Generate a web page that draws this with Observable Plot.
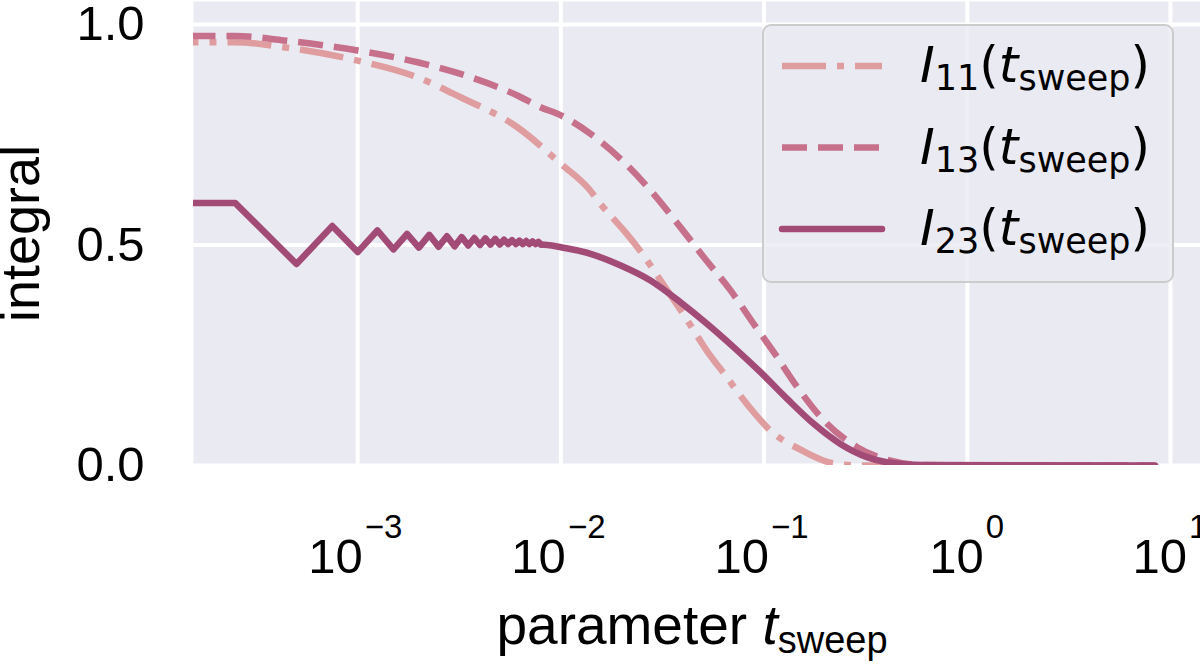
<!DOCTYPE html>
<html><head><meta charset="utf-8">
<script src="https://cdn.jsdelivr.net/npm/d3@7"></script>
<script src="https://cdn.jsdelivr.net/npm/@observablehq/plot@0.6"></script>
<style>
html,body{margin:0;padding:0;background:#fff;}
#wrap{position:relative;width:1200px;height:664px;overflow:hidden;}
</style></head><body><div id="wrap"></div>
<script>
// ---- data ----
const tI11 = [0.0001, 0.00025, 0.000433, 0.001, 0.00197, 0.00321, 0.00611, 0.01, 0.01375, 0.01567, 0.0204, 0.0238, 0.0334, 0.041, 0.0525, 0.0646, 0.0841, 0.1075, 0.154, 0.219, 0.3, 8.4];
const vI11 = [0.960, 0.960, 0.9485, 0.918, 0.880, 0.835, 0.767, 0.684, 0.627, 0.593, 0.533, 0.495, 0.397, 0.336, 0.259, 0.204, 0.134, 0.079, 0.034, 0.005, 0, 0];

const tI13 = [0.0001, 0.00025, 0.000433, 0.001, 0.00197, 0.00321, 0.00611, 0.00794, 0.01, 0.014, 0.0197, 0.0276, 0.0388, 0.0505, 0.0684, 0.0889, 0.1116, 0.1456, 0.197, 0.287, 0.419, 0.6, 8.4];
const vI13 = [0.974, 0.974, 0.964, 0.941, 0.9145, 0.888, 0.839, 0.8125, 0.794, 0.752, 0.695, 0.624, 0.540, 0.472, 0.397, 0.321, 0.257, 0.178, 0.102, 0.0415, 0.011, 0.001, 0];

const tI23 = [0.0001, 0.00025, 0.0005, 0.00075, 0.001, 0.00125, 0.0015, 0.00175, 0.002, 0.00225, 0.0025, 0.00275, 0.003, 0.00325, 0.0035, 0.00375, 0.004, 0.00425, 0.0045, 0.00475, 0.005, 0.00525, 0.0055, 0.00575, 0.006, 0.00625, 0.0065, 0.00675, 0.007, 0.00725, 0.0075, 0.00775, 0.008,
  0.009, 0.01, 0.014, 0.0197, 0.0276, 0.0388, 0.0525, 0.071, 0.096, 0.13, 0.1755, 0.2375, 0.321, 0.435, 0.6, 8.4];
const vI23 = [0.595, 0.595, 0.457, 0.543, 0.484, 0.533, 0.490, 0.525, 0.494, 0.523, 0.496, 0.520, 0.497, 0.518, 0.499, 0.516, 0.500, 0.515, 0.501, 0.514, 0.501, 0.512, 0.502, 0.511, 0.502, 0.510, 0.502, 0.509, 0.502, 0.508, 0.502, 0.507, 0.501,
  0.499, 0.495, 0.480, 0.4535, 0.4195, 0.370, 0.321, 0.268, 0.2116, 0.151, 0.0945, 0.049, 0.019, 0.005, 0.001, 0];

const xTicks = [0.001, 0.01, 0.1, 1, 10];
const xTickExp = ["\u22123", "\u22122", "\u22121", "0", "1"];
const yTicks = [0, 0.5, 1.0];
const seriesSub = ["11", "13", "23"];
const xLabelMain = "parameter ";
const xLabelVar = "t";
const xLabelSub = "sweep";
const yLabel = "integral";

// ---- styles ----
const bg = "#EAEAF2";
const colors = ["#DF9D9F", "#C6708B", "#A34B77"];
const dashes = ["44,11,7,11", "25,11", null];
const lw = 6.5;

const zip = (t, v) => t.map((x, i) => ({t: x, v: v[i]}));
const d11 = zip(tI11, vI11), d13 = zip(tI13, vI13), d23 = zip(tI23, vI23);
const ticks = xTicks.map((t, i) => ({t, e: xTickExp[i]}));
const negT = ticks.filter(d => d.e.length > 1);
const posT = ticks.filter(d => d.e.length === 1);

const tickFont = 49, supFont = 33;
const tickMarks = (arr, d10, dsup) => [
  Plot.text(arr, {x: "t", text: () => "10", frameAnchor: "bottom", textAnchor: "end", lineAnchor: "bottom", dx: d10, dy: 107, fontSize: tickFont, fill: "#000"}),
  Plot.text(arr, {x: "t", text: "e", frameAnchor: "bottom", textAnchor: "start", lineAnchor: "bottom", dx: dsup, dy: 72, fontSize: supFont, fill: "#000"})
];

const chart = Plot.plot({
  width: 1200, height: 664,
  marginLeft: 193, marginRight: 0, marginTop: 1, marginBottom: 199,
  style: {fontFamily: "'Liberation Sans', Arial, sans-serif", background: "transparent", color: "#000"},
  x: {type: "log", domain: [1.556e-4, 14.05], axis: null},
  y: {domain: [0, 1.0522], axis: null},
  marks: [
    Plot.frame({fill: bg, stroke: "none"}),
    Plot.ruleX(xTicks, {x: d => d, stroke: "white", strokeWidth: 4}),
    Plot.ruleY(yTicks, {y: d => d, stroke: "white", strokeWidth: 4}),
    Plot.line(d11, {x: "t", y: "v", stroke: colors[0], strokeWidth: lw, strokeDasharray: dashes[0], strokeLinecap: "butt", curve: "monotone-x", clip: true}),
    Plot.line(d13, {x: "t", y: "v", stroke: colors[1], strokeWidth: lw, strokeDasharray: dashes[1], strokeLinecap: "butt", curve: "monotone-x", clip: true}),
    Plot.line(d23.filter(d => d.t <= 0.008), {x: "t", y: "v", stroke: colors[2], strokeWidth: lw, strokeLinejoin: "round", strokeLinecap: "round", clip: true}),
    Plot.line(d23.filter(d => d.t >= 0.008), {x: "t", y: "v", stroke: colors[2], strokeWidth: lw, strokeLinejoin: "round", strokeLinecap: "round", curve: "monotone-x", clip: true}),
    Plot.axisY(yTicks, {tickSize: 0, tickPadding: 49, tickFormat: d3.format(".1f"), fontSize: tickFont, label: null}),
    ...tickMarks(negT, 5, 7),
    ...tickMarks(posT, 16.5, 18.5),
    Plot.text([yLabel], {text: d => d, frameAnchor: "left", rotate: -90, dx: -172, fontSize: 54, textAnchor: "middle", lineAnchor: "middle", fill: "#000"})
  ]
});
document.getElementById("wrap").appendChild(chart);

// x label with italic variable and subscript
const svg = d3.select(chart);
const xl = svg.append("text").attr("x", 692).attr("y", 644).attr("text-anchor", "middle")
  .attr("font-family", "'Liberation Sans', Arial, sans-serif").attr("font-size", 55).attr("fill", "#000")
  .style("white-space", "pre");
xl.append("tspan").text(xLabelMain);
xl.append("tspan").attr("font-style", "italic").text(xLabelVar);
xl.append("tspan").attr("font-size", 38).attr("dy", 9).text(xLabelSub);

// legend
const lg = svg.append("g");
lg.append("rect").attr("x", 763).attr("y", 25).attr("width", 410).attr("height", 257).attr("rx", 8)
  .attr("fill", "rgba(234,234,242,0.8)").attr("stroke", "#CCCCCC").attr("stroke-width", 2);
seriesSub.forEach((sub, i) => {
  const yy = 66 + i * 81.5;
  const ln = lg.append("line").attr("x1", 782).attr("x2", 882).attr("y1", yy).attr("y2", yy)
    .attr("stroke", colors[i]).attr("stroke-width", lw).attr("stroke-linecap", dashes[i] ? "butt" : "round");
  if (dashes[i]) ln.attr("stroke-dasharray", dashes[i]);
  const tx = lg.append("text").attr("x", 920).attr("y", yy + 16).attr("text-anchor", "start")
    .attr("font-family", "'DejaVu Sans', sans-serif").attr("font-size", 50).attr("fill", "#000");
  tx.append("tspan").attr("font-style", "italic").text("I");
  tx.append("tspan").attr("font-size", 35).attr("dy", 8).text(sub);
  tx.append("tspan").attr("dy", -8).text("(");
  tx.append("tspan").attr("font-style", "italic").text("t");
  tx.append("tspan").attr("font-size", 35).attr("dy", 8).text("sweep");
  tx.append("tspan").attr("dy", -8).text(")");
});
</script></body></html>
